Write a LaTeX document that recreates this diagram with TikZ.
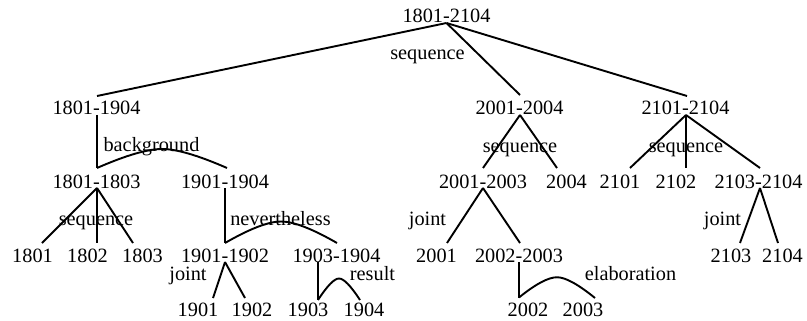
\documentclass[tikz,border=0pt]{standalone}
\usepackage{fontspec}
\setmainfont{Liberation Serif}
\usetikzlibrary{calc}
\newcommand\rstArc[4]{\draw[rstline] (#1) .. controls +({2*#3/9},{-2*#4/3}) and +({-#3/9},0) .. ($(#1)!.5!(#2)+(0,-#4)$) .. controls +({#3/9},0) and +({-2*#3/9},{-2*#4/3}) .. (#2);}
\begin{document}
\begin{tikzpicture}[x=1pt,y=-1pt,
  txt/.style={anchor=base,inner sep=0pt,font=\fontsize{20.3}{24}\selectfont},
  rstline/.style={line width=1.9pt,line join=round}]
\useasboundingbox (0,0) rectangle (807,321);
% spans
\node[txt] (r) at (446.5,23) {1801-2104};
\node[txt] (a) at (96.5,115) {1801-1904};
\node[txt] (b) at (519.5,115) {2001-2004};
\node[txt] (c) at (685.5,115) {2101-2104};
\node[txt] (a1) at (96.5,188) {1801-1803};
\node[txt] (a2) at (225,188) {1901-1904};
\node[txt] (b1) at (483,188) {2001-2003};
\node[txt] (b2) at (566.5,188) {2004};
\node[txt] (c1) at (620,188) {2101};
\node[txt] (c2) at (676,188) {2102};
\node[txt] (c3) at (758.5,188) {2103-2104};
\node[txt] (n1801) at (32.5,262) {1801};
\node[txt] (n1802) at (87.5,262) {1802};
\node[txt] (n1803) at (142.5,262) {1803};
\node[txt] (a21) at (225,262) {1901-1902};
\node[txt] (a22) at (336.5,262) {1903-1904};
\node[txt] (n2001) at (436.5,262) {2001};
\node[txt] (b12) at (519,262) {2002-2003};
\node[txt] (n2103) at (731,262) {2103};
\node[txt] (n2104) at (782.5,262) {2104};
\node[txt] (n1901) at (198,316) {1901};
\node[txt] (n1902) at (252,316) {1902};
\node[txt] (n1903) at (308,316) {1903};
\node[txt] (n1904) at (364,316) {1904};
\node[txt] (n2002) at (528,316) {2002};
\node[txt] (n2003) at (583,316) {2003};
% relation labels
\node[txt] (l1) at (427.5,60) {sequence};
\node[txt] (l2) at (151.5,152) {background};
\node[txt] (l3) at (520,153) {sequence};
\node[txt] (l4) at (686,153) {sequence};
\node[txt] (l5) at (96,225) {sequence};
\node[txt] (l6) at (280.5,225) {nevertheless};
\node[txt] (l7) at (427.5,225) {joint};
\node[txt] (l8) at (722.5,225) {joint};
\node[txt] (l9) at (188,280) {joint};
\node[txt] (l10) at (372.5,280) {result};
\node[txt] (l11) at (630.5,280) {elaboration};
% attachment points
\coordinate (a1t) at ([xshift=0.5pt,yshift=20pt]a1.base);
\coordinate (a2t) at ([xshift=2pt,yshift=20pt]a2.base);
\coordinate (a21t) at ([yshift=19pt]a21.base);
\coordinate (a22t) at ([xshift=0.5pt,yshift=19pt]a22.base);
\coordinate (n1903t) at ([xshift=10pt,yshift=16pt]n1903.base);
\coordinate (n1904t) at ([xshift=-4pt,yshift=16pt]n1904.base);
\coordinate (n2002t) at ([xshift=-9pt,yshift=18.5pt]n2002.base);
\coordinate (n2003t) at ([xshift=12pt,yshift=18pt]n2003.base);
% connectors
\draw[rstline] (r.base) -- ([xshift=0.5pt,yshift=19pt]a.base);
\draw[rstline] (r.base) -- ([xshift=0.5pt,yshift=20pt]b.base);
\draw[rstline] (r.base) -- ([xshift=1.5pt,yshift=19pt]c.base);
\draw[rstline] ([xshift=0.5pt]a.base) -- (a1t);
\rstArc{a1t}{a2t}{130}{19}
\draw[rstline] ([xshift=0.5pt]b.base) -- ([yshift=20pt]b1.base);
\draw[rstline] ([xshift=0.5pt]b.base) -- ([xshift=-9.5pt,yshift=20pt]b2.base);
\draw[rstline] ([xshift=0.5pt]c.base) -- ([xshift=10pt,yshift=20pt]c1.base);
\draw[rstline] ([xshift=0.5pt]c.base) -- ([xshift=10pt,yshift=20pt]c2.base);
\draw[rstline] ([xshift=0.5pt]c.base) -- ([xshift=1.5pt,yshift=20pt]c3.base);
\draw[rstline] ([xshift=0.5pt]a1.base) -- ([xshift=9.5pt,yshift=19pt]n1801.base);
\draw[rstline] ([xshift=0.5pt]a1.base) -- ([xshift=9.5pt,yshift=19pt]n1802.base);
\draw[rstline] ([xshift=0.5pt]a1.base) -- ([xshift=-9.5pt,yshift=19pt]n1803.base);
\draw[rstline] (a2.base) -- (a21t);
\rstArc{a21t}{a22t}{112}{21.5}
\draw[rstline] (b1.base) -- ([xshift=10.5pt,yshift=19pt]n2001.base);
\draw[rstline] (b1.base) -- ([xshift=1pt,yshift=19pt]b12.base);
\draw[rstline] ([xshift=1.5pt]c3.base) -- ([xshift=9pt,yshift=19pt]n2103.base);
\draw[rstline] ([xshift=1.5pt]c3.base) -- ([xshift=-4.5pt,yshift=19pt]n2104.base);
\draw[rstline] (a21.base) -- ([xshift=15pt,yshift=18pt]n1901.base);
\draw[rstline] (a21.base) -- ([xshift=-7pt,yshift=18pt]n1902.base);
\draw[rstline] ([xshift=-18.5pt]a22.base) -- (n1903t);
\rstArc{n1903t}{n1904t}{42}{21.5}
\draw[rstline] (b12.base) -- (n2002t);
\rstArc{n2002t}{n2003t}{76}{20.5}
\end{tikzpicture}
\end{document}
